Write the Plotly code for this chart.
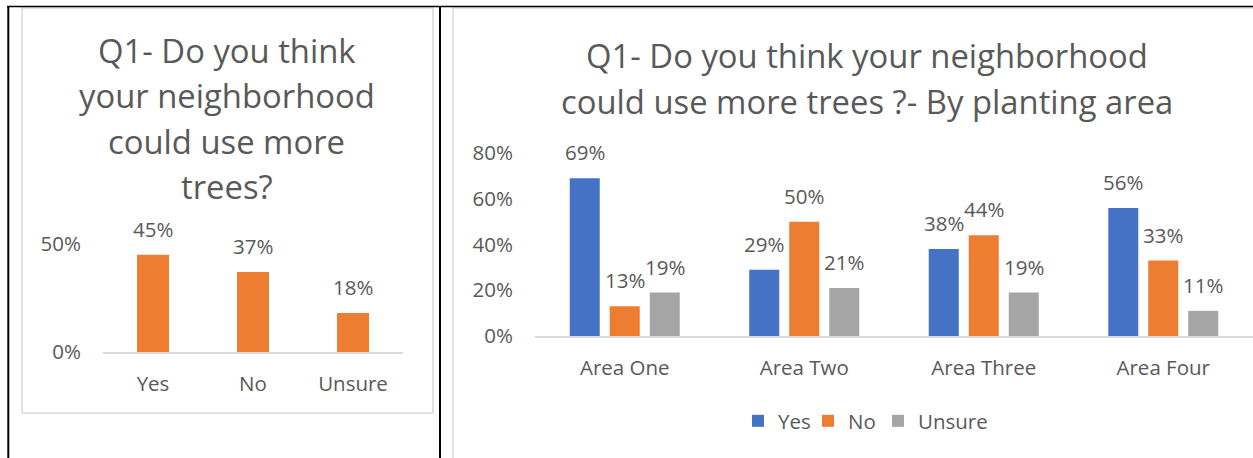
import plotly.graph_objects as go

# ---- data ----
overall_categories = ["Yes", "No", "Unsure"]
overall_values = [0.45, 0.37, 0.18]

area_categories = ["Area One", "Area Two", "Area Three", "Area Four"]
area_yes = [0.69, 0.29, 0.38, 0.56]
area_no = [0.13, 0.50, 0.44, 0.33]
area_unsure = [0.19, 0.21, 0.19, 0.11]

left_title_lines = ["Q1- Do you think", "your neighborhood", "could use more", "trees?"]
right_title_lines = ["Q1- Do you think your neighborhood",
                     "could use more trees ?- By planting area"]

W, H = 1253, 458
TXT = "#595959"
FONT = "Open Sans"
BLUE, ORANGE, GRAY = "#4472C4", "#ED7D31", "#A5A5A5"


def px(x):
    return x / W


def py(y):
    return 1 - y / H


fig = go.Figure()

# left chart
fig.add_trace(go.Bar(x=overall_categories, y=overall_values, marker_color=ORANGE,
                     width=0.32, xaxis="x", yaxis="y", showlegend=False,
                     marker_line_width=0, hoverinfo="skip"))

# right chart
bw = 30 / 179.5
slot = 40 / 179.5
series = [("Yes", area_yes, BLUE, -1, 25), ("No", area_no, ORANGE, 0, 25),
          ("Unsure", area_unsure, GRAY, 1, None)]
for name, vals, col, k, lw in series:
    fig.add_trace(go.Bar(x=area_categories, y=vals, name=name, marker_color=col,
                         width=bw, offset=k * slot - bw / 2, xaxis="x2", yaxis="y2",
                         marker_line_width=0, hoverinfo="skip", legendwidth=lw))

annotations = []
# data labels
for c, v in zip(overall_categories, overall_values):
    annotations.append(dict(x=c, y=v, xref="x", yref="y", text=f"{round(v*100)}%",
                            showarrow=False, yanchor="middle", yshift=26,
                            font=dict(size=20.5, color=TXT, family=FONT)))
for name, vals, col, k, lw in series:
    for c, v in zip(area_categories, vals):
        annotations.append(dict(x=c, y=v, xref="x2", yref="y2", text=f"{round(v*100)}%",
                                showarrow=False, yanchor="middle", yshift=26, xshift=k * 40,
                                font=dict(size=20.5, color=TXT, family=FONT)))
# titles
for i, t in enumerate(left_title_lines):
    annotations.append(dict(x=px(226.5), y=py(50.5 + i * 45.3), xref="paper", yref="paper",
                            text=t, showarrow=False, xanchor="center", yanchor="middle",
                            font=dict(size=32.8, color=TXT, family=FONT)))
for i, t in enumerate(right_title_lines):
    annotations.append(dict(x=px(867), y=py(56 + i * 46), xref="paper", yref="paper",
                            text=t, showarrow=False, xanchor="center", yanchor="middle",
                            font=dict(size=32.8, color=TXT, family=FONT)))

shapes = [
    # chart boxes
    dict(type="rect", xref="paper", yref="paper", x0=px(22), x1=px(433), y0=py(413), y1=py(8),
         line=dict(color="#D9D9D9", width=1.5), layer="below"),
    dict(type="rect", xref="paper", yref="paper", x0=px(453), x1=px(1270), y0=py(480), y1=py(8),
         line=dict(color="#D9D9D9", width=1.5), layer="below"),
    # table borders
    dict(type="line", xref="paper", yref="paper", x0=px(7), x1=px(1260), y0=py(6.5), y1=py(6.5),
         line=dict(color="black", width=1.5)),
    dict(type="line", xref="paper", yref="paper", x0=px(8.3), x1=px(8.3), y0=py(6), y1=py(470),
         line=dict(color="black", width=2)),
    dict(type="line", xref="paper", yref="paper", x0=px(440), x1=px(440), y0=py(6), y1=py(470),
         line=dict(color="black", width=2)),
]

axis_font = dict(size=20.5, color=TXT, family=FONT)
fig.update_layout(
    template="none",
    width=W, height=H, margin=dict(l=0, r=0, t=0, b=0, autoexpand=False),
    paper_bgcolor="white", plot_bgcolor="white",
    barmode="overlay",
    font=dict(family=FONT, color=TXT),
    xaxis=dict(domain=[px(103), px(403)], anchor="y", showline=True, linecolor="#D9D9D9",
               linewidth=1.5, showgrid=False, ticks="", tickfont=axis_font, automargin=False,
               ticklabelstandoff=13, range=[-0.5, 2.5], fixedrange=True),
    yaxis=dict(domain=[py(352), py(244)], anchor="x", range=[0, 0.5], tickvals=[0, 0.5],
               tickformat=".0%", showgrid=False, zeroline=False, showline=False, ticks="",
               tickfont=axis_font, ticklabelstandoff=21, automargin=False),
    xaxis2=dict(domain=[px(535), px(1253)], anchor="y2", showline=True, linecolor="#D9D9D9",
                linewidth=1.5, showgrid=False, ticks="", tickfont=axis_font, automargin=False,
                ticklabelstandoff=13, range=[-0.5, 3.5]),
    yaxis2=dict(domain=[py(336), py(153)], anchor="x2", range=[0, 0.8],
                tickvals=[0, 0.2, 0.4, 0.6, 0.8], tickformat=".0%", showgrid=False,
                zeroline=False, showline=False, ticks="", tickfont=axis_font,
                ticklabelstandoff=21, automargin=False),
    legend=dict(orientation="h", x=px(738), y=py(421), xanchor="left", yanchor="middle",
                font=dict(size=20.5, color=TXT, family=FONT), itemwidth=30,
                bgcolor="rgba(0,0,0,0)"),
    annotations=annotations,
    shapes=shapes,
)

fig.write_html("out.html")
